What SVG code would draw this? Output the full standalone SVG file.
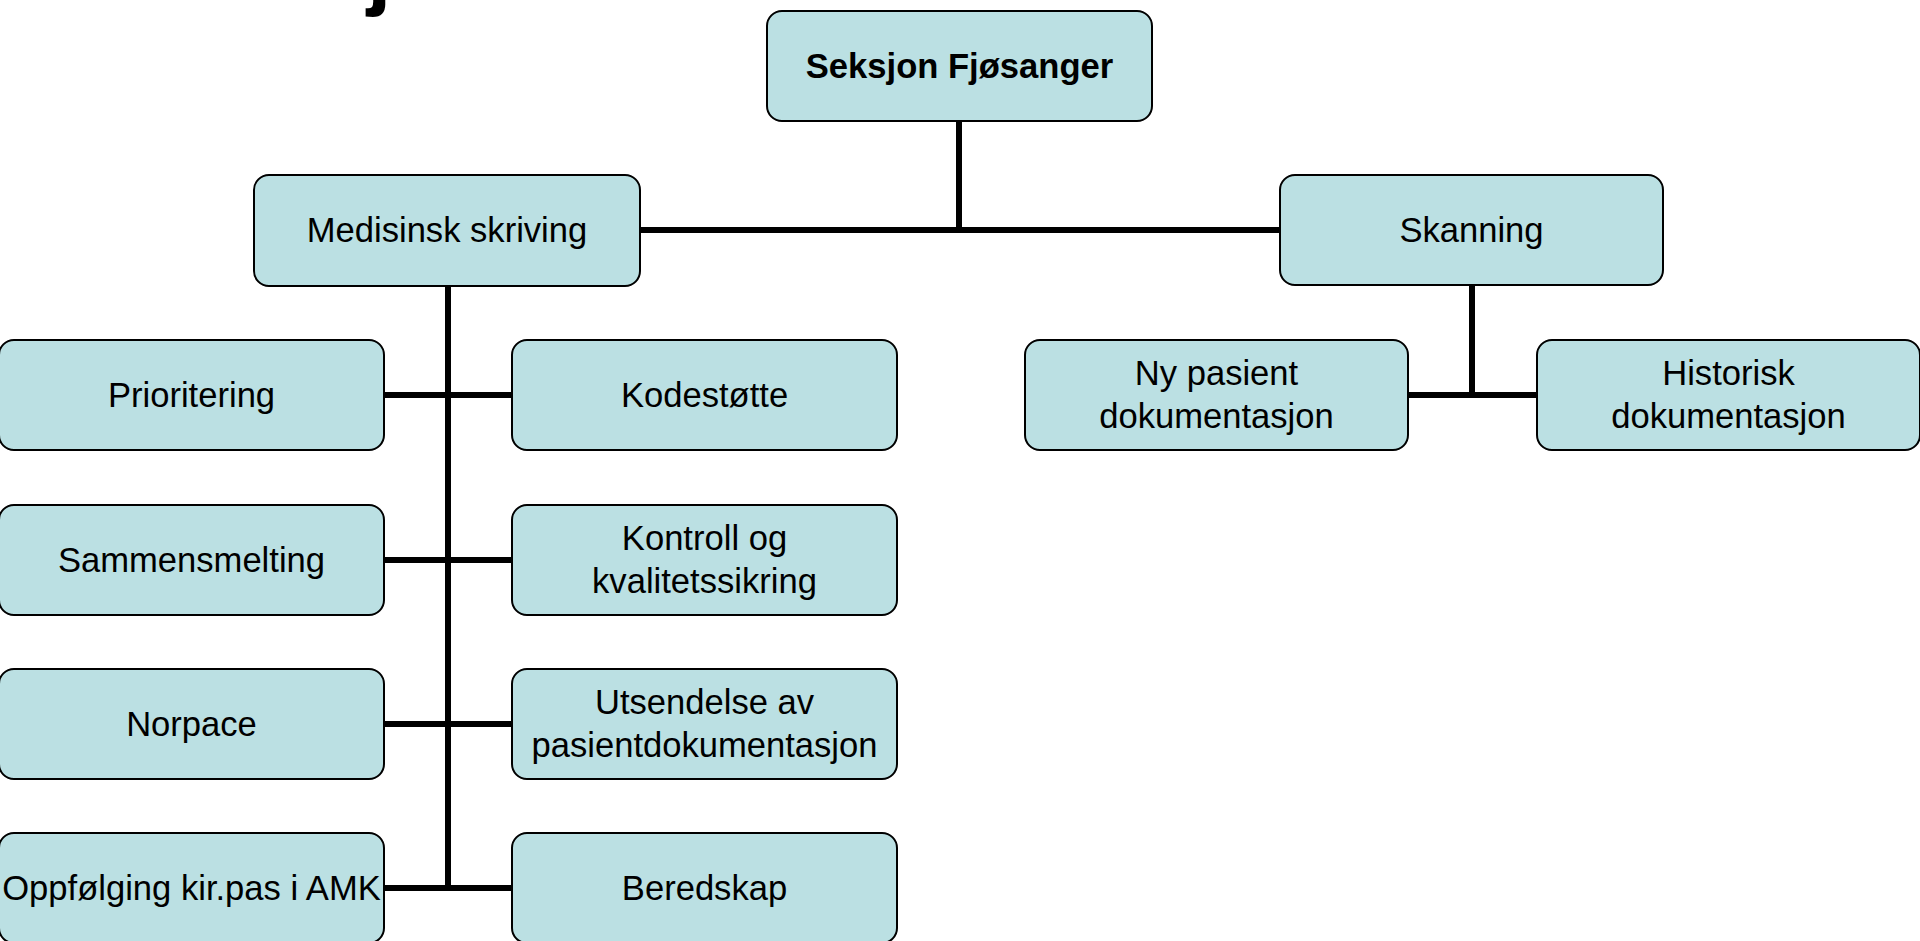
<svg xmlns="http://www.w3.org/2000/svg" width="1920" height="941" viewBox="0 0 1920 941">
  <style>
    .box { fill: #BBE0E3; stroke: #000; stroke-width: 2; }
    .lbl { font-family: "Liberation Sans", Arial, sans-serif; font-size: 34.6px; fill: #000; text-anchor: middle; }
    .bold { font-weight: bold; }
    .wire { stroke: #000; stroke-width: 6; fill: none; }
    .title { font-family: "Liberation Sans", Arial, sans-serif; font-size: 88px; font-weight: bold; fill: #000; }
  </style>
  <rect width="1920" height="941" fill="#fff"/>

  <!-- slide title, only its lower edge falls inside the frame -->
  <text class="title" x="367" y="-1">j</text>

  <!-- connectors -->
  <g id="connectors">
    <line class="wire" x1="959" y1="121" x2="959" y2="233"/>
    <line class="wire" x1="640" y1="230" x2="1280" y2="230"/>
    <line class="wire" x1="448" y1="286" x2="448" y2="891"/>
    <line class="wire" x1="384" y1="395" x2="512" y2="395"/>
    <line class="wire" x1="384" y1="560" x2="512" y2="560"/>
    <line class="wire" x1="384" y1="724" x2="512" y2="724"/>
    <line class="wire" x1="384" y1="888" x2="512" y2="888"/>
    <line class="wire" x1="1472" y1="285" x2="1472" y2="398"/>
    <line class="wire" x1="1408" y1="395" x2="1537" y2="395"/>
  </g>

  <g id="seksjon-fjosanger">
    <rect class="box" x="767" y="11" width="385" height="110" rx="15"/>
    <text class="lbl bold" x="959.5" y="78">Seksjon Fjøsanger</text>
  </g>

  <g id="medisinsk-skriving">
    <rect class="box" x="254" y="175" width="386" height="111" rx="15"/>
    <text class="lbl" x="447" y="242">Medisinsk skriving</text>
  </g>

  <g id="skanning">
    <rect class="box" x="1280" y="175" width="383" height="110" rx="15"/>
    <text class="lbl" x="1471.5" y="242">Skanning</text>
  </g>

  <g id="prioritering">
    <rect class="box" x="-1" y="340" width="385" height="110" rx="15"/>
    <text class="lbl" x="191.5" y="407">Prioritering</text>
  </g>

  <g id="kodestotte">
    <rect class="box" x="512" y="340" width="385" height="110" rx="15"/>
    <text class="lbl" x="704.5" y="407">Kodestøtte</text>
  </g>

  <g id="sammensmelting">
    <rect class="box" x="-1" y="505" width="385" height="110" rx="15"/>
    <text class="lbl" x="191.5" y="572">Sammensmelting</text>
  </g>

  <g id="kontroll">
    <rect class="box" x="512" y="505" width="385" height="110" rx="15"/>
    <text class="lbl" x="704.5" y="550">Kontroll og</text>
    <text class="lbl" x="704.5" y="593">kvalitetssikring</text>
  </g>

  <g id="norpace">
    <rect class="box" x="-1" y="669" width="385" height="110" rx="15"/>
    <text class="lbl" x="191.5" y="736">Norpace</text>
  </g>

  <g id="utsendelse">
    <rect class="box" x="512" y="669" width="385" height="110" rx="15"/>
    <text class="lbl" x="704.5" y="714">Utsendelse av</text>
    <text class="lbl" x="704.5" y="757">pasientdokumentasjon</text>
  </g>

  <g id="oppfolging">
    <rect class="box" x="-1" y="833" width="385" height="110" rx="15"/>
    <text class="lbl" x="191.5" y="900">Oppfølging kir.pas i AMK</text>
  </g>

  <g id="beredskap">
    <rect class="box" x="512" y="833" width="385" height="110" rx="15"/>
    <text class="lbl" x="704.5" y="900">Beredskap</text>
  </g>

  <g id="ny-pasient">
    <rect class="box" x="1025" y="340" width="383" height="110" rx="15"/>
    <text class="lbl" x="1216.5" y="385">Ny pasient</text>
    <text class="lbl" x="1216.5" y="428">dokumentasjon</text>
  </g>

  <g id="historisk">
    <rect class="box" x="1537" y="340" width="383" height="110" rx="15"/>
    <text class="lbl" x="1728.5" y="385">Historisk</text>
    <text class="lbl" x="1728.5" y="428">dokumentasjon</text>
  </g>
</svg>
